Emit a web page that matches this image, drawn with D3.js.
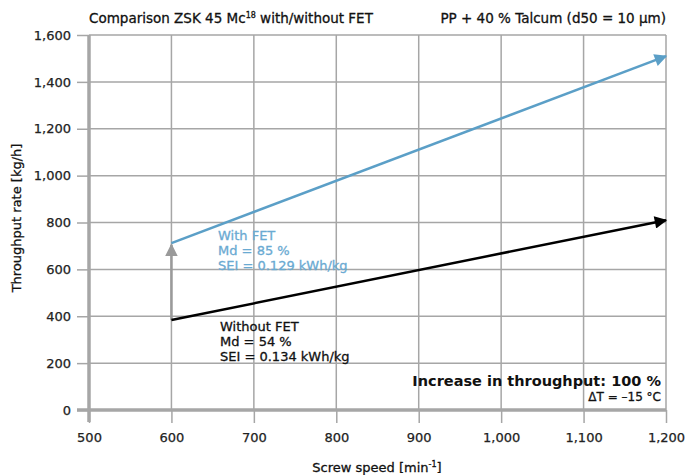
<!DOCTYPE html>
<html><head><meta charset="utf-8">
<script src="https://cdn.jsdelivr.net/npm/d3@7"></script>
<style>
body{margin:0;background:#fff;}
text{font-family:"DejaVu Sans",sans-serif;}
</style></head>
<body><svg id="c" width="685" height="475"></svg>
<script>
const xTicks=[500,600,700,800,900,1000,1100,1200];
const yTicks=[0,200,400,600,800,1000,1200,1400,1600];
const speed=[600,1200];
const withFET=[712,1510];
const withoutFET=[384,810];
const increaseArrow=[384,705];

const svg=d3.select("#c");
const L=89,R=666,T=35,B=410;
const x=d3.scaleLinear().domain([500,1200]).range([L,R]);
const y=d3.scaleLinear().domain([0,1600]).range([B,T]);
const grid="#a6a6a6";
const fmt=d3.format(",");

// grid
svg.append("g").selectAll("line").data(xTicks).join("line")
 .attr("x1",d=>x(d)).attr("x2",d=>x(d)).attr("y1",T).attr("y2",B)
 .attr("stroke",grid).attr("stroke-width",1.5);
svg.append("g").selectAll("line").data(yTicks).join("line")
 .attr("x1",L).attr("x2",R).attr("y1",d=>y(d)).attr("y2",d=>y(d))
 .attr("stroke",grid).attr("stroke-width",1.5);

// axes
const xa=svg.append("g").attr("transform",`translate(0,${B})`)
 .call(d3.axisBottom(x).tickValues(xTicks).tickFormat(fmt).tickSize(13).tickPadding(10));
const ya=svg.append("g").attr("transform",`translate(${L},0)`)
 .call(d3.axisLeft(y).tickValues(yTicks).tickFormat(fmt).tickSize(12).tickPadding(6));
[xa,ya].forEach(a=>{
 a.select(".domain").attr("stroke",grid).attr("stroke-width",3.5);
 a.selectAll(".tick line").attr("stroke",grid).attr("stroke-width",1.5);
 a.selectAll(".tick text").attr("fill","#222").style("font-size","13px").style("font-family","DejaVu Sans")
  .attr("stroke","#222").attr("stroke-width",0.25);
});
ya.select(".domain").attr("d",`M0,${B+12}V${T}`);
xa.select(".domain").attr("d",`M${L-12},0H${R}`);

// markers
const defs=svg.append("defs");
function mk(id,col){
 defs.append("marker").attr("id",id).attr("viewBox","0 0 10 10").attr("refX",9).attr("refY",5)
 .attr("markerWidth",6).attr("markerHeight",5).attr("markerUnits","strokeWidth").attr("orient","auto")
 .append("path").attr("d","M0,0L10,5L0,10Z").attr("fill",col);
}
mk("aBlue","#5b9fc7");mk("aBlack","#000");mk("aGray","#9a9a9a");

const line=d3.line().x(d=>x(d[0])).y(d=>y(d[1]));
svg.append("path").attr("d",line([[speed[0],increaseArrow[0]],[speed[0],increaseArrow[1]]]))
 .attr("stroke","#9a9a9a").attr("stroke-width",2.5).attr("fill","none").attr("marker-end","url(#aGray)");
svg.append("path").attr("d",line(speed.map((s,i)=>[s,withoutFET[i]])))
 .attr("stroke","#000").attr("stroke-width",2.5).attr("fill","none").attr("marker-end","url(#aBlack)");
svg.append("path").attr("d",line(speed.map((s,i)=>[s,withFET[i]])))
 .attr("stroke","#5b9fc7").attr("stroke-width",2.5).attr("fill","none").attr("marker-end","url(#aBlue)");

// annotations
function txt(t,xx,yy,opt={}){
 const c=opt.fill||"#111";
 return svg.append("text").attr("x",xx).attr("y",yy).text(t)
 .attr("fill",c).attr("stroke",opt.weight?"none":c).attr("stroke-width",0.3)
 .style("font-size",(opt.size||13)+"px")
 .style("font-weight",opt.weight||"normal").attr("text-anchor",opt.anchor||"start");
}
const blueT="#6aaad2";
txt("With FET",218,240,{fill:blueT});
txt("Md = 85 %",218,255,{fill:blueT});
txt("SEI = 0.129 kWh/kg",218,270,{fill:blueT});
txt("Without FET",220,331);
txt("Md = 54 %",220,346);
txt("SEI = 0.134 kWh/kg",220,361);
txt("Increase in throughput: 100 %",661,386,{weight:"bold",size:14.5,anchor:"end"});
txt("ΔT = –15 °C",661,401,{size:12,anchor:"end"});

// title
const t1=txt("Comparison ZSK 45 Mc",89,23,{size:13.5});
t1.append("tspan").text("18").attr("dy",-5).style("font-size","8px");
t1.append("tspan").text(" with/without FET").attr("dy",5);
txt("PP + 40 % Talcum (d50 = 10 µm)",666,23,{anchor:"end",size:13.5});

// axis titles
const xt=txt("Screw speed [min",377,472,{anchor:"middle"});
xt.append("tspan").text("-1").attr("dy",-5).style("font-size","8px");
xt.append("tspan").text("]").attr("dy",5);
svg.append("text").attr("transform","translate(21,218) rotate(-90)").attr("text-anchor","middle")
 .style("font-size","13px").attr("fill","#111").attr("stroke","#111").attr("stroke-width",0.3)
 .text("Throughput rate [kg/h]");
</script></body></html>
